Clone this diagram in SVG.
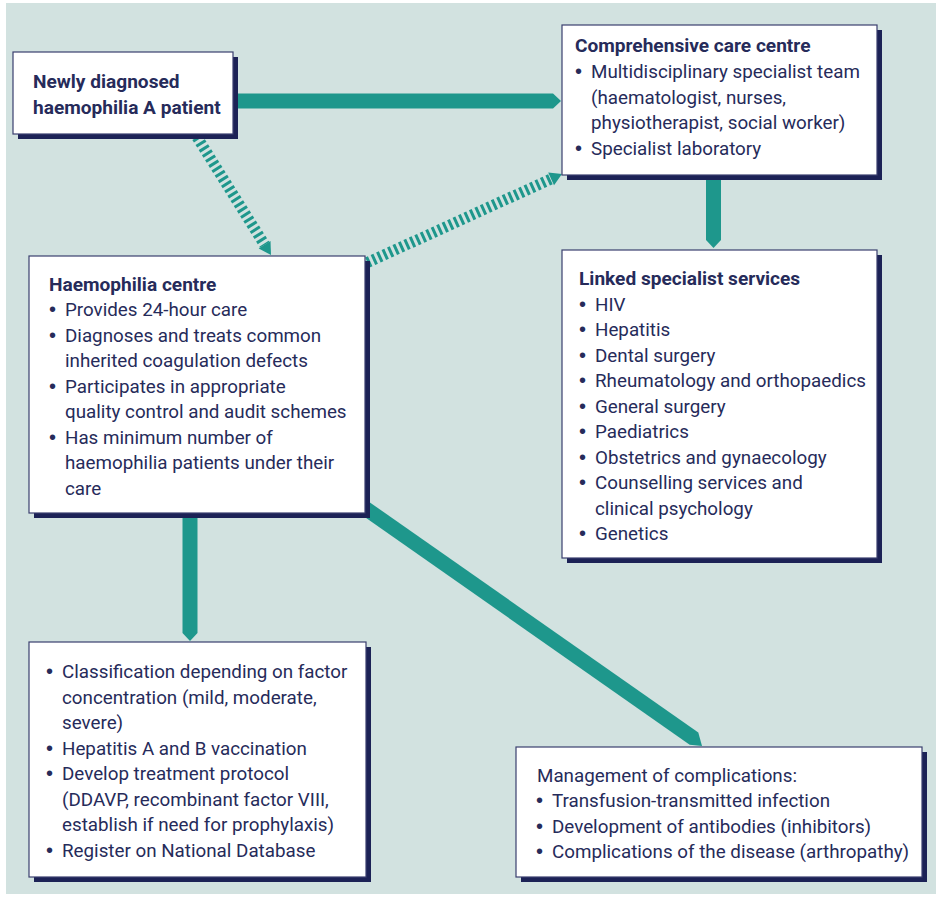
<svg xmlns="http://www.w3.org/2000/svg" width="940" height="898" viewBox="0 0 940 898">
  <style>
    .bg { fill: #d2e2e0; }
    .shadow { fill: #1c2256; }
    .box { fill: #ffffff; stroke: #3a3f6e; stroke-width: 1.2; }
    text { font-family: Roboto, "Liberation Sans", sans-serif; font-size: 18.8px; fill: #262b5a; }
    .title { font-weight: 700; font-size: 19.1px; }
    .b { font-family: "Liberation Sans", Arial, sans-serif; font-size: 20px; }
    .solid { fill: #1e978c; }
    .hatch { fill: none; stroke: #1e978c; stroke-width: 11; stroke-dasharray: 3 3; }
  </style>

  <rect class="bg" x="6" y="3" width="930" height="891"/>

  <!-- connectors, drawn beneath the boxes -->
  <g id="connectors">
    <!-- new patient -> comprehensive care centre -->
    <polygon class="solid" points="225,93.5 553,93.5 561,101 553,108.5 225,108.5"/>
    <!-- comprehensive care centre -> linked specialist services -->
    <polygon class="solid" points="706,170 721,170 721,240 713.5,248 706,240"/>
    <!-- haemophilia centre -> initial management -->
    <polygon class="solid" points="182.5,505 197.5,505 197.5,633 190,641 182.5,633"/>
    <!-- haemophilia centre -> management of complications -->
    <polygon class="solid" points="356.3,492.9 698.3,732.5 702,746 689.7,744.7 347.7,505.1"/>
    <!-- new patient -> haemophilia centre (referral) -->
    <line class="hatch" x1="197" y1="137" x2="264.6" y2="244.8"/>
    <polygon class="solid" points="270.5,241.1 271,255 258.7,248.5"/>
    <!-- haemophilia centre <-> comprehensive care centre -->
    <line class="hatch" x1="362" y1="265" x2="551.1" y2="178.9"/>
    <polygon class="solid" points="554,185.3 562,174 548.2,172.5"/>
  </g>

  <g id="new-patient">
    <rect class="shadow" x="18" y="57" width="220" height="82"/>
    <rect class="box" x="13" y="52" width="220" height="82"/>
    <text class="title" x="33" y="88">Newly diagnosed</text>
    <text class="title" x="33" y="114">haemophilia A patient</text>
  </g>

  <g id="comprehensive-care-centre">
    <rect class="shadow" x="567" y="30" width="315" height="150"/>
    <rect class="box" x="562" y="25" width="315" height="150"/>
    <text class="title" x="575" y="52">Comprehensive care centre</text>
    <text class="b" x="575" y="78">•</text><text x="591" y="78">Multidisciplinary specialist team</text>
    <text x="591" y="103.5">(haematologist, nurses,</text>
    <text x="591" y="129">physiotherapist, social worker)</text>
    <text class="b" x="575" y="154.5">•</text><text x="591" y="154.5">Specialist laboratory</text>
  </g>

  <g id="linked-specialist-services">
    <rect class="shadow" x="567" y="255" width="315" height="308"/>
    <rect class="box" x="562" y="250" width="315" height="308"/>
    <text class="title" x="579" y="285">Linked specialist services</text>
    <text class="b" x="579" y="310.5">•</text><text x="595" y="310.5">HIV</text>
    <text class="b" x="579" y="336">•</text><text x="595" y="336">Hepatitis</text>
    <text class="b" x="579" y="361.5">•</text><text x="595" y="361.5">Dental surgery</text>
    <text class="b" x="579" y="387">•</text><text x="595" y="387">Rheumatology and orthopaedics</text>
    <text class="b" x="579" y="412.5">•</text><text x="595" y="412.5">General surgery</text>
    <text class="b" x="579" y="438">•</text><text x="595" y="438">Paediatrics</text>
    <text class="b" x="579" y="463.5">•</text><text x="595" y="463.5">Obstetrics and gynaecology</text>
    <text class="b" x="579" y="489">•</text><text x="595" y="489">Counselling services and</text>
    <text x="595" y="514.5">clinical psychology</text>
    <text class="b" x="579" y="540">•</text><text x="595" y="540">Genetics</text>
  </g>

  <g id="haemophilia-centre">
    <rect class="shadow" x="34" y="261" width="336" height="257"/>
    <rect class="box" x="29" y="256" width="336" height="257"/>
    <text class="title" x="49" y="290.5">Haemophilia centre</text>
    <text class="b" x="49" y="316">•</text><text x="65" y="316">Provides 24-hour care</text>
    <text class="b" x="49" y="341.5">•</text><text x="65" y="341.5">Diagnoses and treats common</text>
    <text x="65" y="367">inherited coagulation defects</text>
    <text class="b" x="49" y="392.5">•</text><text x="65" y="392.5">Participates in appropriate</text>
    <text x="65" y="418">quality control and audit schemes</text>
    <text class="b" x="49" y="443.5">•</text><text x="65" y="443.5">Has minimum number of</text>
    <text x="65" y="469">haemophilia patients under their</text>
    <text x="65" y="494.5">care</text>
  </g>

  <g id="initial-management">
    <rect class="shadow" x="34" y="647" width="337" height="235"/>
    <rect class="box" x="29" y="642" width="337" height="235"/>
    <text class="b" x="46" y="678">•</text><text x="62" y="678">Classification depending on factor</text>
    <text x="62" y="703.5">concentration (mild, moderate,</text>
    <text x="62" y="729">severe)</text>
    <text class="b" x="46" y="754.5">•</text><text x="62" y="754.5">Hepatitis A and B vaccination</text>
    <text class="b" x="46" y="780">•</text><text x="62" y="780">Develop treatment protocol</text>
    <text x="62" y="805.5">(DDAVP, recombinant factor VIII,</text>
    <text x="62" y="831">establish if need for prophylaxis)</text>
    <text class="b" x="46" y="856.5">•</text><text x="62" y="856.5">Register on National Database</text>
  </g>

  <g id="complications">
    <rect class="shadow" x="521" y="752" width="406" height="130"/>
    <rect class="box" x="516" y="747" width="406" height="130"/>
    <text x="537" y="782">Management of complications:</text>
    <text class="b" x="536" y="807">•</text><text x="552" y="807">Transfusion-transmitted infection</text>
    <text class="b" x="536" y="832.5">•</text><text x="552" y="832.5">Development of antibodies (inhibitors)</text>
    <text class="b" x="536" y="858">•</text><text x="552" y="858">Complications of the disease (arthropathy)</text>
  </g>
</svg>
